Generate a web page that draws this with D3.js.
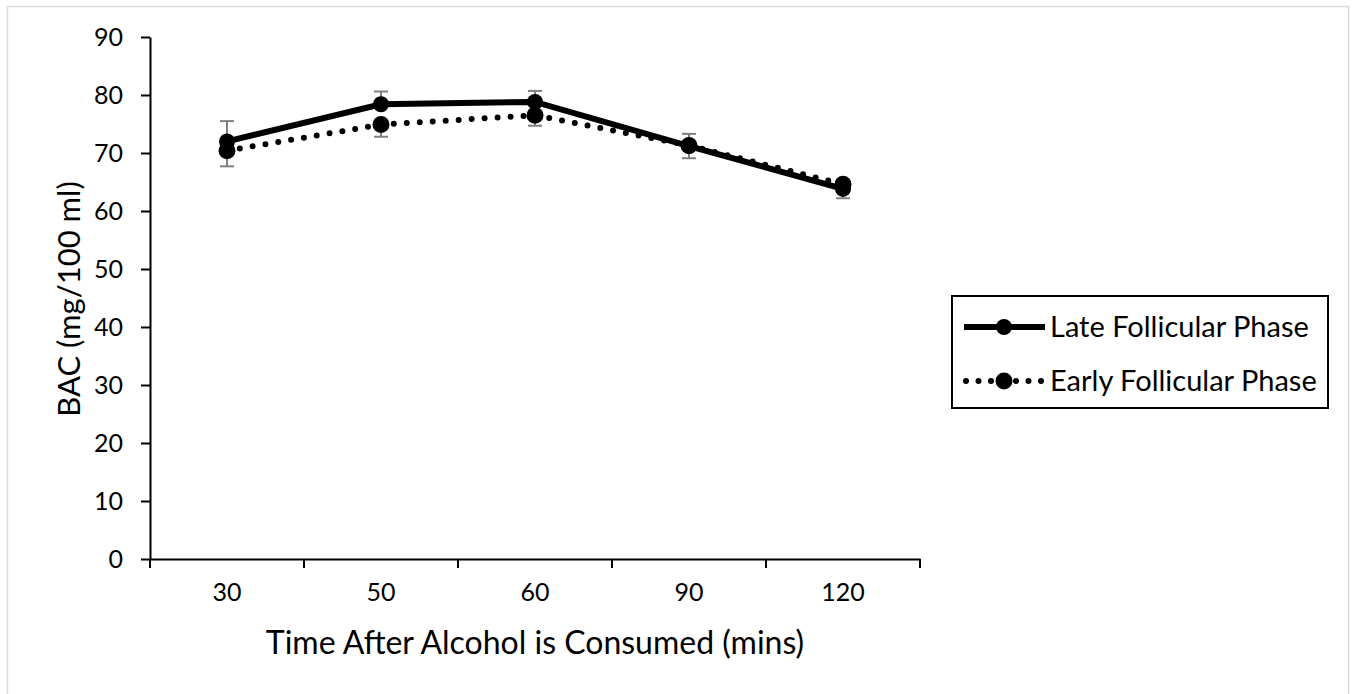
<!DOCTYPE html>
<html>
  <head>
      <meta charset="utf-8">
      <title>BAC chart</title>
      <script type="text/javascript" src="https://d3js.org/d3.v7.min.js"></script>
      <style>
        body { margin: 0; background: #fff; }
        text { font-family: Lato, "Open Sans", sans-serif; fill: #000; }
      </style>
  </head>
  <body>
    <script type="text/javascript">
    var w = 1355;
    var h = 694;

    // data
    var times = ["30", "50", "60", "90", "120"];
    var lateBAC = [72.0, 78.4, 78.8, 71.2, 63.8];
    var lateErr = [3.5, 2.2, 1.9, 2.1, 1.0];     // drawn upward
    var earlyBAC = [70.4, 74.9, 76.5, 71.3, 64.6];
    var earlyErr = [2.7, 2.1, 1.8, 2.2, 2.4];    // drawn downward
    var yTicks = [0, 10, 20, 30, 40, 50, 60, 70, 80, 90];

    var plotLeft = 150, plotRight = 920, plotTop = 37, plotBottom = 559;

    var xScale = d3.scaleBand()
                   .domain(times)
                   .range([plotLeft, plotRight])
                   .padding(0);
    var yScale = d3.scaleLinear()
                   .domain([0, 90])
                   .range([plotBottom, plotTop]);

    var svg = d3.select("body")
                .append("svg")
                .attr("width", w)
                .attr("height", h);

    // outer light frame
    svg.append("rect")
       .attr("x", 7.5).attr("y", 6.5)
       .attr("width", 1341).attr("height", 700)
       .attr("fill", "none")
       .attr("stroke", "#d9d9d9")
       .attr("stroke-width", 1.5);

    // y axis
    var yAxis = d3.axisLeft(yScale)
                  .tickValues(yTicks)
                  .tickSize(9)
                  .tickPadding(18)
                  .tickSizeOuter(0);
    var gy = svg.append("g")
       .attr("transform", "translate(" + plotLeft + ",0)")
       .call(yAxis);
    gy.selectAll("path, line").attr("stroke", "#000").attr("stroke-width", 2);
    gy.selectAll("text").attr("font-size", "25px").attr("font-family", "Lato, sans-serif").attr("fill", "#000");

    // x axis: labels at centres, ticks on category boundaries
    var xAxis = d3.axisBottom(xScale).tickSize(0).tickPadding(24).tickSizeOuter(0);
    var gx = svg.append("g")
       .attr("transform", "translate(0," + plotBottom + ")")
       .call(xAxis);
    gx.select("path").attr("stroke", "#000").attr("stroke-width", 2);
    gx.selectAll("text").attr("font-size", "25px").attr("font-family", "Lato, sans-serif").attr("fill", "#000");

    var bounds = times.map(function(d){ return xScale(d); }).concat([xScale.range()[1]]);
    svg.selectAll("line.xtick")
       .data(bounds)
       .enter()
       .append("line")
       .attr("class", "xtick")
       .attr("x1", function(d){ return d; })
       .attr("x2", function(d){ return d; })
       .attr("y1", plotBottom)
       .attr("y2", plotBottom + 9)
       .attr("stroke", "#000")
       .attr("stroke-width", 2);

    // axis titles
    svg.append("text")
       .attr("x", 535)
       .attr("y", 654)
       .attr("text-anchor", "middle")
       .attr("font-size", "32px")
       .text("Time After Alcohol is Consumed (mins)");

    svg.append("text")
       .attr("transform", "translate(80,299) rotate(-90)")
       .attr("text-anchor", "middle")
       .attr("font-size", "31px")
       .text("BAC (mg/100 ml)");

    var cx = function(i){ return xScale(times[i]) + xScale.bandwidth() / 2; };

    // error bars
    function errorBars(vals, errs, dir) {
      var g = svg.append("g").attr("stroke", "#808080").attr("stroke-width", 2);
      vals.forEach(function(v, i){
        var end = yScale(v + dir * errs[i]);
        g.append("line")
         .attr("x1", cx(i)).attr("x2", cx(i))
         .attr("y1", yScale(v)).attr("y2", end);
        g.append("line")
         .attr("x1", cx(i) - 7).attr("x2", cx(i) + 7)
         .attr("y1", end).attr("y2", end);
      });
    }
    errorBars(lateBAC, lateErr, 1);
    errorBars(earlyBAC, earlyErr, -1);

    var line = d3.line()
                 .x(function(d, i){ return cx(i); })
                 .y(function(d){ return yScale(d); });

    // early follicular: dotted
    svg.append("path")
       .datum(earlyBAC)
       .attr("d", line)
       .attr("fill", "none")
       .attr("stroke", "#000")
       .attr("stroke-width", 6)
       .attr("stroke-linecap", "round")
       .attr("stroke-dasharray", "0,13");
    svg.selectAll("circle.early")
       .data(earlyBAC)
       .enter()
       .append("circle")
       .attr("class", "early")
       .attr("cx", function(d, i){ return cx(i); })
       .attr("cy", function(d){ return yScale(d); })
       .attr("r", 8.5)
       .attr("fill", "#000");

    // late follicular: solid
    svg.append("path")
       .datum(lateBAC)
       .attr("d", line)
       .attr("fill", "none")
       .attr("stroke", "#000")
       .attr("stroke-width", 6);
    svg.selectAll("circle.late")
       .data(lateBAC)
       .enter()
       .append("circle")
       .attr("class", "late")
       .attr("cx", function(d, i){ return cx(i); })
       .attr("cy", function(d){ return yScale(d); })
       .attr("r", 8)
       .attr("fill", "#000");

    // legend
    var lg = svg.append("g");
    lg.append("rect")
      .attr("x", 952).attr("y", 296)
      .attr("width", 376).attr("height", 112)
      .attr("fill", "#fff")
      .attr("stroke", "#000")
      .attr("stroke-width", 2);

    lg.append("line")
      .attr("x1", 964).attr("x2", 1045)
      .attr("y1", 327).attr("y2", 327)
      .attr("stroke", "#000").attr("stroke-width", 6);
    lg.append("circle").attr("cx", 1004).attr("cy", 327).attr("r", 8).attr("fill", "#000");
    lg.append("text")
      .attr("x", 1050).attr("y", 337)
      .attr("font-size", "29px")
      .text("Late Follicular Phase");

    lg.append("line")
      .attr("x1", 966).attr("x2", 1045)
      .attr("y1", 381).attr("y2", 381)
      .attr("stroke", "#000").attr("stroke-width", 6)
      .attr("stroke-linecap", "round")
      .attr("stroke-dasharray", "0,12.5");
    lg.append("circle").attr("cx", 1004).attr("cy", 381).attr("r", 8.5).attr("fill", "#000");
    lg.append("text")
      .attr("x", 1050).attr("y", 391)
      .attr("font-size", "29px")
      .text("Early Follicular Phase");
    </script>
  </body>
</html>
